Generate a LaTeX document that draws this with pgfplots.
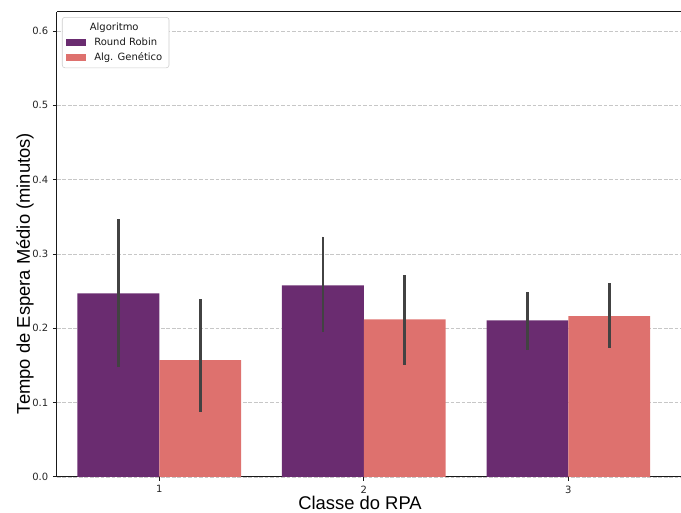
\documentclass[border=0pt]{standalone}
\usepackage{pgfplots}
\pgfplotsset{compat=1.18}
\usepackage{pgfplotstable}
\usepackage{fontspec}
\setmainfont{DejaVu Sans}
\newfontfamily\labelfont{Liberation Sans}
\definecolor{rr}{RGB}{106,44,112}
\definecolor{ga}{RGB}{222,113,110}
\definecolor{errc}{RGB}{66,66,66}

% x = bar centre, y = mean, lo/hi = confidence interval
\pgfplotstableread{
x y lo hi
-0.2 0.2471 0.1484 0.3467
0.8 0.2579 0.1947 0.3233
1.8 0.2108 0.1705 0.2489
}\rrdata
\pgfplotstableread{
x y lo hi
0.2 0.1574 0.0870 0.2391
1.2 0.2122 0.1507 0.2714
2.2 0.2166 0.1740 0.2606
}\gadata

\pgfplotsset{
  mylegend/.style={legend image code/.code={\fill[##1, sharp corners] (0pt,-2.6pt) rectangle (15pt,2.6pt);}},
}

\begin{document}
\begin{tikzpicture}
\begin{axis}[
  at={(0pt,0pt)}, anchor=south west,
  scale only axis, width=468pt, height=348.75pt,
  xmin=-0.5, xmax=2.551, ymin=0, ymax=0.6256,
  axis x line=box, axis y line=left, y axis line style={-},
  axis line style={line width=0.75pt, black!90},
  xtick={0,1,2}, xticklabels={1,2,3},
  ytick={0,0.1,0.2,0.3,0.4,0.5,0.6},
  yticklabel style={/pgf/number format/.cd, fixed, fixed zerofill, precision=1},
  /pgf/number format/assume math mode=true,
  tick align=outside, xtick pos=left, ytick pos=left,
  major tick length=3pt,
  tick style={line width=0.75pt, black!90},
  tick label style={font=\fontsize{7.5}{9}\selectfont, text=black!85},
  ymajorgrids, grid style={dash pattern=on 2.8pt off 1.3pt, line width=0.6pt, color=black!22},
  xlabel={Classe do RPA},
  ylabel={Tempo de Espera Médio (minutos)},
  xlabel style={font=\labelfont\fontsize{13.8}{16}\selectfont, at={(axis description cs:0.4856,-0.0705)}, anchor=base},
  ylabel style={font=\labelfont\fontsize{13.8}{16}\selectfont, at={(axis description cs:-0.0433,0.4376)}, anchor=base},
  legend style={at={(axis description cs:0.008,0.9892)}, anchor=north west, draw=black!20, rounded corners=2pt, fill=white, font=\fontsize{7.5}{9}\selectfont, text=black!90},
  legend cell align=left,
  legend style={/tikz/every odd column/.append style={column sep=4pt}},
]
\addlegendimage{empty legend}
\addlegendentry{\hspace*{-3.3pt}Algoritmo}
\addplot[ybar, bar width=0.4, bar shift=0pt, fill=rr, draw=none, mylegend,
  error bars/.cd, y dir=both, y explicit, error mark=none,
  error bar style={draw=errc, line width=2pt}]
  table[x=x, y=y, y error plus expr=\thisrow{hi}-\thisrow{y}, y error minus expr=\thisrow{y}-\thisrow{lo}] {\rrdata};
\addlegendentry{Round Robin}
\addplot[ybar, bar width=0.4, bar shift=0pt, fill=ga, draw=none, mylegend,
  error bars/.cd, y dir=both, y explicit, error mark=none,
  error bar style={draw=errc, line width=2pt}]
  table[x=x, y=y, y error plus expr=\thisrow{hi}-\thisrow{y}, y error minus expr=\thisrow{y}-\thisrow{lo}] {\gadata};
\addlegendentry{Alg. Genético}
\end{axis}
\pgfresetboundingbox
\path[use as bounding box] (-42.75pt,-27pt) rectangle (468pt,357.75pt);
\end{tikzpicture}
\end{document}
